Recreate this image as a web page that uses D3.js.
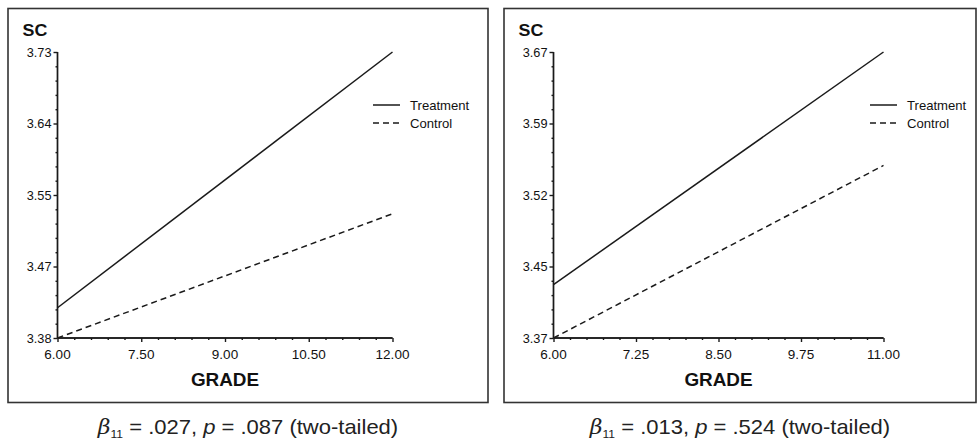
<!DOCTYPE html>
<html>
<head>
<meta charset="utf-8">
<script src="https://cdn.jsdelivr.net/npm/d3@7"></script>
<style>
  body { margin: 0; background: #fff; }
  svg text { font-family: "Liberation Sans", Arial, sans-serif; fill: #111; }
</style>
</head>
<body>
<svg id="chart" width="977" height="441"></svg>
<script>
// panel 1
const grade1 = [6, 12]
const treatment1 = [3.417, 3.73]
const control1 = [3.38, 3.532]
const xTicks1 = [6, 7.5, 9, 10.5, 12]
const yTicks1 = [3.38, 3.4675, 3.555, 3.6425, 3.73]
const yLabels1 = ["3.38", "3.47", "3.55", "3.64", "3.73"]
const caption1 = [".027", ".087"]

// panel 2
const grade2 = [6, 11]
const treatment2 = [3.426, 3.67]
const control2 = [3.37, 3.551]
const xTicks2 = [6, 7.25, 8.5, 9.75, 11]
const yTicks2 = [3.37, 3.445, 3.52, 3.595, 3.67]
const yLabels2 = ["3.37", "3.45", "3.52", "3.59", "3.67"]
const caption2 = [".013", ".524"]

const seriesNames = ["Treatment", "Control"]

const svg = d3.select("#chart")
const ink = "#1a1a1a"

const panels = [
  {left: 8, width: 480, axisX: 57.5, axisW: 335, grade: grade1, t: treatment1, c: control1,
   xTicks: xTicks1, yTicks: yTicks1, yLabels: yLabels1, caption: caption1, legendX: 373},
  {left: 504, width: 472, axisX: 553.5, axisW: 330, grade: grade2, t: treatment2, c: control2,
   xTicks: xTicks2, yTicks: yTicks2, yLabels: yLabels2, caption: caption2, legendX: 870}
]

// stretched text helper (source figure is a bit wider than the font)
const txt = (g, x, y, s, size, weight, anchor, sx) => {
  return g.append("text")
    .attr("transform", `translate(${x},${y}) scale(${sx},1)`)
    .attr("text-anchor", anchor)
    .style("font-size", size + "px")
    .style("font-weight", weight)
    .text(s)
}

panels.forEach(p => {
  const g = svg.append("g")

  g.append("rect")
   .attr("x", p.left).attr("y", 8.5)
   .attr("width", p.width).attr("height", 394)
   .attr("fill", "none").attr("stroke", "#333").attr("stroke-width", 1.6)

  const top = 52, bottom = 338
  const x = d3.scaleLinear().domain(d3.extent(p.xTicks)).range([p.axisX, p.axisX + p.axisW])
  const y = d3.scaleLinear().domain(d3.extent(p.yTicks)).range([bottom, top])

  // minor ticks: 5 subdivisions between majors
  const xMinor = [], yMinor = []
  for (let i = 0; i < p.xTicks.length - 1; i++)
    for (let k = 1; k < 5; k++) xMinor.push(p.xTicks[i] + (p.xTicks[i + 1] - p.xTicks[i]) * k / 5)
  for (let i = 0; i < p.yTicks.length - 1; i++)
    for (let k = 1; k < 5; k++) yMinor.push(p.yTicks[i] + (p.yTicks[i + 1] - p.yTicks[i]) * k / 5)

  const xAxis = g.append("g").attr("transform", `translate(0,${bottom})`)
  xAxis.call(d3.axisBottom(x).tickValues(p.xTicks).tickSize(4).tickFormat(""))
  xAxis.append("g").call(d3.axisBottom(x).tickValues(xMinor).tickSize(2).tickFormat(""))
  xAxis.selectAll(".domain").attr("d", `M${p.axisX},0H${p.axisX + p.axisW}`)
  xAxis.selectAll("line, path").attr("stroke", ink).attr("stroke-width", 1.4)

  const yAxis = g.append("g").attr("transform", `translate(${p.axisX},0)`)
  yAxis.call(d3.axisLeft(y).tickValues(p.yTicks).tickSize(4).tickFormat(""))
  yAxis.append("g").call(d3.axisLeft(y).tickValues(yMinor).tickSize(2).tickFormat(""))
  yAxis.selectAll(".domain").attr("d", `M0,${top}V${bottom}`)
  yAxis.selectAll("line, path").attr("stroke", ink).attr("stroke-width", 1.4)

  p.xTicks.forEach(v => txt(g, x(v), bottom + 21, v.toFixed(2), 13, "normal", "middle", 1.04))
  p.yTicks.forEach((v, i) => txt(g, p.axisX - 6, y(v) + 4.5, p.yLabels[i], 12.5, "normal", "end", 1.02))

  txt(g, p.left + 14.5, 35.5, "SC", 17, "bold", "start", 1.05)
  txt(g, p.axisX + p.axisW / 2, 386, "GRADE", 17.5, "bold", "middle", 1.08)

  const line = d3.line().x(d => x(d[0])).y(d => y(d[1]))
  g.append("path").datum(p.grade.map((v, i) => [v, p.t[i]]))
   .attr("d", line).attr("fill", "none").attr("stroke", ink).attr("stroke-width", 1.5)
  g.append("path").datum(p.grade.map((v, i) => [v, p.c[i]]))
   .attr("d", line).attr("fill", "none").attr("stroke", ink).attr("stroke-width", 1.5)
   .attr("stroke-dasharray", "6,4")

  // legend
  seriesNames.forEach((name, i) => {
    const ly = 105 + i * 18
    g.append("line").attr("x1", p.legendX).attr("x2", p.legendX + 27)
     .attr("y1", ly).attr("y2", ly).attr("stroke", ink).attr("stroke-width", 1.5)
     .attr("stroke-dasharray", i ? "6,4" : null)
    txt(g, p.legendX + 37, ly + 5, name, 12.5, "normal", "start", 1.05)
  })

  // caption
  const cx = p.left + p.width / 2
  const cap = g.append("text")
    .attr("transform", `translate(${cx},434) scale(1.1,1)`)
    .attr("text-anchor", "middle")
    .style("font-size", "20px").style("fill", "#222")
  cap.append("tspan").style("font-style", "italic").style("font-family", "'DejaVu Serif', serif").text("β")
  cap.append("tspan").attr("dy", 4).style("font-size", "11px").text("11")
  cap.append("tspan").attr("dy", -4).text(" = " + p.caption[0] + ", ")
  cap.append("tspan").style("font-style", "italic").text("p")
  cap.append("tspan").text(" = " + p.caption[1] + " (two-tailed)")
})
</script>
</body>
</html>
